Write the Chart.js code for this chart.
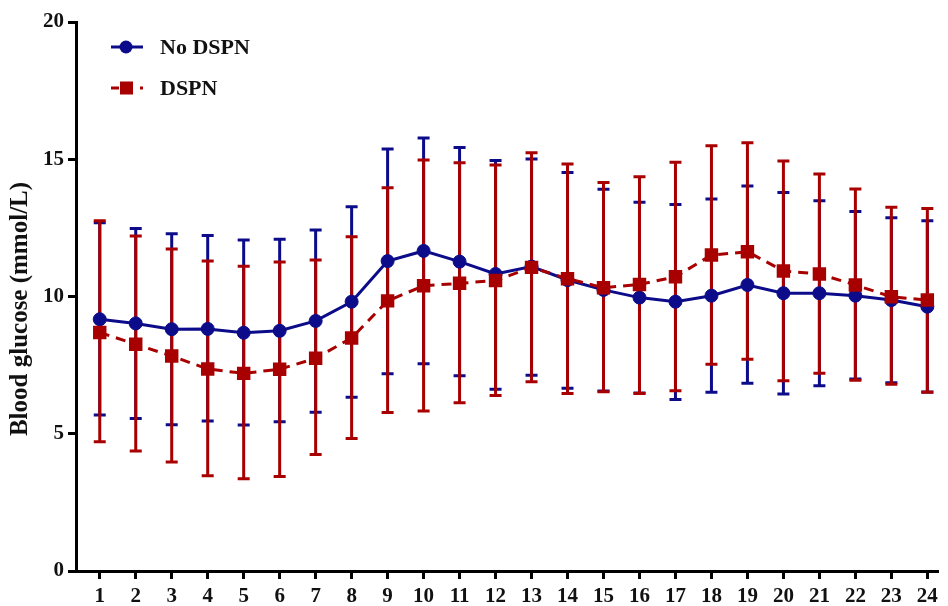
<!DOCTYPE html>
<html>
<head>
<meta charset="utf-8">
<script src="https://cdn.jsdelivr.net/npm/chart.js@4/dist/chart.umd.min.js"></script>
<style>
  html, body { margin: 0; padding: 0; background: #fff; }
  #wrap { width: 948px; height: 606px; }
</style>
</head>
<body>
<div id="wrap"><canvas id="grafico"></canvas></div>
<script>
// horas
const horas = [1, 2, 3, 4, 5, 6, 7, 8, 9, 10, 11, 12, 13, 14, 15, 16, 17, 18, 19, 20, 21, 22, 23, 24];
const yTicks = [0, 5, 10, 15, 20];

// No DSPN: média e limites da barra de erro
const noDspnMedia = [9.17, 9.02, 8.81, 8.82, 8.68, 8.75, 9.11, 9.81, 11.29, 11.66, 11.27, 10.82, 11.09, 10.60, 10.24, 9.96, 9.81, 10.03, 10.42, 10.12, 10.12, 10.03, 9.87, 9.63];
const noDspnAlto = [12.69, 12.48, 12.29, 12.22, 12.06, 12.09, 12.42, 13.27, 15.37, 15.77, 15.43, 14.95, 15.01, 14.52, 13.91, 13.43, 13.35, 13.55, 14.03, 13.79, 13.49, 13.10, 12.87, 12.76];
const noDspnBaixo = [5.68, 5.56, 5.33, 5.46, 5.32, 5.44, 5.78, 6.33, 7.19, 7.55, 7.11, 6.62, 7.13, 6.66, 6.56, 6.48, 6.25, 6.51, 6.84, 6.45, 6.75, 6.99, 6.86, 6.52];

// DSPN
const dspnMedia = [8.69, 8.26, 7.83, 7.36, 7.20, 7.35, 7.75, 8.49, 9.84, 10.39, 10.48, 10.58, 11.06, 10.65, 10.32, 10.44, 10.72, 11.51, 11.63, 10.93, 10.82, 10.42, 9.99, 9.87];
const dspnAlto = [12.76, 12.20, 11.73, 11.29, 11.10, 11.26, 11.33, 12.18, 13.96, 14.97, 14.87, 14.79, 15.24, 14.83, 14.15, 14.36, 14.89, 15.49, 15.60, 14.94, 14.46, 13.92, 13.25, 13.21];
const dspnBaixo = [4.71, 4.37, 3.97, 3.47, 3.36, 3.44, 4.24, 4.83, 5.77, 5.83, 6.13, 6.39, 6.89, 6.47, 6.53, 6.47, 6.57, 7.53, 7.71, 6.93, 7.20, 6.95, 6.80, 6.51];

const AZUL = "#0c0c8a";
const VERMELHO = "#a80000";
const fonte = "'Liberation Serif', 'Times New Roman', serif";

// barras de erro desenhadas com as escalas do gráfico
const barrasErro = {
  id: "barrasErro",
  beforeDatasetsDraw(chart) {
    const ctx = chart.ctx;
    const x = chart.scales.x;
    const y = chart.scales.y;
    const series = [
      { cor: AZUL, alto: noDspnAlto, baixo: noDspnBaixo },
      { cor: VERMELHO, alto: dspnAlto, baixo: dspnBaixo },
    ];
    ctx.save();
    series.forEach((s) => {
      ctx.strokeStyle = s.cor;
      ctx.lineWidth = 3;
      horas.forEach((h, i) => {
        const px = x.getPixelForValue(h);
        const yA = y.getPixelForValue(s.alto[i]);
        const yB = y.getPixelForValue(s.baixo[i]);
        ctx.beginPath();
        ctx.moveTo(px, yA);
        ctx.lineTo(px, yB);
        ctx.moveTo(px - 6, yA);
        ctx.lineTo(px + 6, yA);
        ctx.moveTo(px - 6, yB);
        ctx.lineTo(px + 6, yB);
        ctx.stroke();
      });
    });
    ctx.restore();
  },
};

// legenda com linha + marcador, e título do eixo y
const legenda = {
  id: "legenda",
  afterDraw(chart) {
    const ctx = chart.ctx;
    ctx.save();
    ctx.font = "bold 22px " + fonte;
    ctx.textBaseline = "middle";
    ctx.fillStyle = "#111";
    // No DSPN
    ctx.strokeStyle = AZUL;
    ctx.lineWidth = 3;
    ctx.beginPath();
    ctx.moveTo(111, 47);
    ctx.lineTo(143, 47);
    ctx.stroke();
    ctx.fillStyle = AZUL;
    ctx.beginPath();
    ctx.arc(126, 47, 6.5, 0, Math.PI * 2);
    ctx.fill();
    ctx.fillStyle = "#111";
    ctx.fillText("No DSPN", 160, 48);
    // DSPN
    ctx.strokeStyle = VERMELHO;
    ctx.beginPath();
    ctx.moveTo(111, 88);
    ctx.lineTo(119, 88);
    ctx.moveTo(140, 88);
    ctx.lineTo(143, 88);
    ctx.stroke();
    ctx.fillStyle = VERMELHO;
    ctx.fillRect(120, 81.5, 13, 13);
    ctx.fillStyle = "#111";
    ctx.fillText("DSPN", 160, 89);

    // título do eixo y
    ctx.translate(21, 309);
    ctx.rotate(-Math.PI / 2);
    ctx.textAlign = "center";
    ctx.font = "bold 25px " + fonte;
    ctx.fillText("Blood glucose (mmol/L)", 0, 0);
    ctx.restore();
  },
};

const grafico = document.getElementById("grafico");
new Chart(grafico, {
  type: "line",
  data: {
    datasets: [
      {
        label: "No DSPN",
        data: horas.map((h, i) => ({ x: h, y: noDspnMedia[i] })),
        borderColor: AZUL,
        backgroundColor: AZUL,
        borderWidth: 3,
        pointStyle: "circle",
        pointRadius: 6.5,
        pointBorderWidth: 1,
        pointHoverRadius: 6.5,
        order: 2,
      },
      {
        label: "DSPN",
        data: horas.map((h, i) => ({ x: h, y: dspnMedia[i] })),
        borderColor: VERMELHO,
        backgroundColor: VERMELHO,
        borderWidth: 3,
        borderDash: [10, 7],
        pointStyle: "rect",
        pointRadius: 9.5,
        pointBorderWidth: 0,
        pointHoverRadius: 9.5,
        order: 1,
      },
    ],
  },
  options: {
    responsive: true,
    maintainAspectRatio: false,
    animation: false,
    layout: { padding: { top: 22, right: 0, left: 0, bottom: 0 } },
    plugins: {
      legend: { display: false },
      tooltip: { enabled: false },
    },
    scales: {
      x: {
        type: "linear",
        min: 0.34,
        max: 24.31,
        afterBuildTicks: (axis) => {
          axis.ticks = horas.map((h) => ({ value: h }));
        },
        afterFit: (scale) => {
          scale.height = 35;
        },
        grid: {
          drawOnChartArea: false,
          drawTicks: true,
          tickLength: 8,
          tickWidth: 3,
          color: "#000",
        },
        border: { color: "#000", width: 3 },
        ticks: {
          color: "#111",
          padding: 5,
          maxRotation: 0,
          autoSkip: false,
          font: { family: fonte, size: 21, weight: "bold" },
        },
      },
      y: {
        min: 0,
        max: 20,
        afterBuildTicks: (axis) => {
          axis.ticks = yTicks.map((v) => ({ value: v }));
        },
        afterFit: (scale) => {
          scale.width = 76;
        },
        grid: {
          drawOnChartArea: false,
          drawTicks: true,
          tickLength: 8,
          tickWidth: 3,
          color: "#000",
        },
        border: { color: "#000", width: 3 },
        ticks: {
          color: "#111",
          padding: 4,
          font: { family: fonte, size: 21, weight: "bold" },
        },
      },
    },
  },
  plugins: [barrasErro, legenda],
});
</script>
</body>
</html>
